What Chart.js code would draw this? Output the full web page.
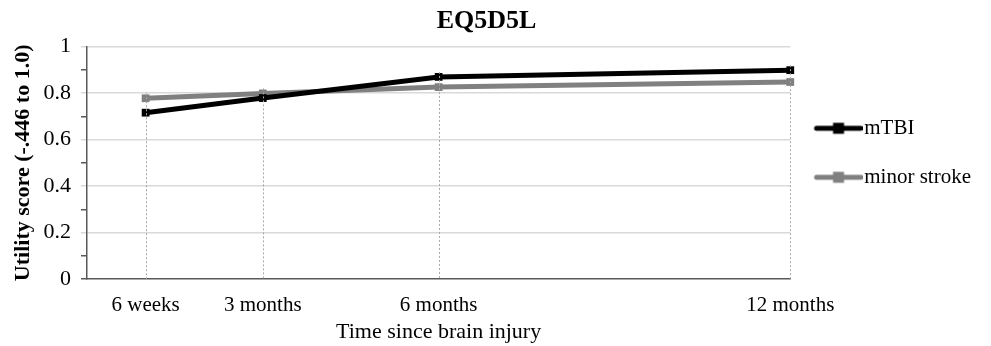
<!DOCTYPE html>
<html>
<head>
<meta charset="utf-8">
<script src="https://cdn.jsdelivr.net/npm/chart.js@4/dist/chart.umd.min.js"></script>
<style>
  html, body { margin: 0; padding: 0; background: #ffffff; }
  #wrap { width: 991px; height: 346px; position: relative; }
</style>
</head>
<body>
<div id="wrap"><canvas id="c" width="991" height="346"></canvas></div>
<script>
// ---- data ----
const chartTitle = 'EQ5D5L';
const timeLabels = ['6 weeks', '3 months', '6 months', '12 months'];
const timeMonths = [1, 3, 6, 12];
const mTBI = [0.716, 0.779, 0.870, 0.899];
const minorStroke = [0.778, 0.799, 0.826, 0.848];
const seriesNames = ['mTBI', 'minor stroke'];
const yTickValues = [0, 0.2, 0.4, 0.6, 0.8, 1];
const xAxisTitle = 'Time since brain injury';
const yAxisTitle = 'Utility score (-.446 to 1.0)';

const BLACK = '#000000';
const GRAY = '#808080';
const FONT = '"Liberation Serif", "Times New Roman", serif';

function legendImage(color) {
  const c = document.createElement('canvas');
  c.width = 53; c.height = 14;
  const g = c.getContext('2d');
  g.strokeStyle = color; g.lineWidth = 5; g.lineCap = 'round';
  g.beginPath(); g.moveTo(7, 7); g.lineTo(51, 7); g.stroke();
  g.fillStyle = color; g.fillRect(29 - 5.5, 7 - 5.5, 11, 11);
  return c;
}
const legendImgs = [legendImage(BLACK), legendImage(GRAY)];

const dropLines = {
  id: 'dropLines',
  afterDatasetsDraw(chart) {
    const ctx = chart.ctx;
    const y0 = chart.scales.y.getPixelForValue(0);
    const metas = chart.getSortedVisibleDatasetMetas();
    ctx.save();
    ctx.strokeStyle = '#a6a6a6';
    ctx.lineWidth = 1;
    ctx.setLineDash([2, 2]);
    for (let i = 0; i < timeMonths.length; i++) {
      let top = Infinity, x = null;
      metas.forEach(m => { const p = m.data[i]; if (p) { top = Math.min(top, p.y); x = p.x; } });
      ctx.beginPath();
      ctx.moveTo(Math.round(x) + 0.5, top - 5);
      ctx.lineTo(Math.round(x) + 0.5, y0);
      ctx.stroke();
    }
    ctx.restore();
  }
};

function isMajor(v) { return yTickValues.some(t => Math.abs(t - v) < 1e-6); }

new Chart(document.getElementById('c'), {
  type: 'line',
  data: {
    datasets: [
      {
        label: seriesNames[0],
        data: timeMonths.map((m, i) => ({ x: m, y: mTBI[i] })),
        borderColor: BLACK, backgroundColor: BLACK,
        borderWidth: 5, pointStyle: 'rect', pointRadius: 5.5, pointBorderWidth: 0,
        tension: 0, clip: false
      },
      {
        label: seriesNames[1],
        data: timeMonths.map((m, i) => ({ x: m, y: minorStroke[i] })),
        borderColor: GRAY, backgroundColor: GRAY,
        borderWidth: 5, pointStyle: 'rect', pointRadius: 5.5, pointBorderWidth: 0,
        tension: 0, clip: false
      }
    ]
  },
  options: {
    responsive: false,
    animation: false,
    devicePixelRatio: 1,
    layout: { padding: { left: -8, right: 10, top: 0, bottom: 1 } },
    plugins: {
      tooltip: { enabled: false },
      title: {
        display: true, text: chartTitle, color: BLACK,
        font: { family: FONT, size: 26, weight: 'bold' },
        padding: { top: 6, bottom: 9.5 }
      },
      legend: {
        display: true, position: 'right', align: 'start',
        title: { display: true, text: '', font: { size: 12, lineHeight: 1.2 }, padding: { top: 75.4, bottom: 0 } },
        labels: {
          usePointStyle: true, pointStyleWidth: 35.5, padding: 28,
          color: BLACK, font: { family: FONT, size: 21 },
          generateLabels: (chart) => seriesNames.map((n, i) => ({
            text: n, pointStyle: legendImgs[i], fontColor: BLACK,
            hidden: false, datasetIndex: i, lineWidth: 0, strokeStyle: 'transparent', fillStyle: 'transparent'
          }))
        }
      }
    },
    scales: {
      x: {
        type: 'linear', min: 0, max: 12,
        afterBuildTicks: (s) => { s.ticks = timeMonths.map(v => ({ value: v })); },
        ticks: {
          autoSkip: false, maxRotation: 0, padding: 1, color: BLACK,
          font: { family: FONT, size: 21 },
          callback: (v) => timeLabels[timeMonths.indexOf(v)]
        },
        grid: { display: false, drawTicks: true, tickLength: 12.4 },
        border: { display: true, color: '#595959', width: 1.5 },
        title: {
          display: true, text: xAxisTitle, color: BLACK,
          font: { family: FONT, size: 22 }, padding: { top: 0, bottom: 0 }
        }
      },
      y: {
        min: 0, max: 1,
        ticks: {
          stepSize: 0.1, autoSkip: false, padding: 10, color: BLACK,
          font: { family: FONT, size: 22 },
          callback: (v) => isMajor(v) ? String(Math.round(v * 10) / 10) : ''
        },
        afterBuildTicks: (s) => {
          const t = [];
          for (let i = 0; i <= 10; i++) t.push({ value: i / 10 });
          s.ticks = t;
        },
        grid: {
          drawTicks: true, tickLength: 6, lineWidth: 1.5,
          color: (c) => (c.tick && isMajor(c.tick.value) && c.tick.value > 0) ? '#d9d9d9' : 'rgba(0,0,0,0)',
          tickColor: (c) => (c.tick && isMajor(c.tick.value) && c.tick.value > 0) ? '#d9d9d9' : '#595959'
        },
        border: { display: true, color: '#595959', width: 1.5 },
        title: {
          display: true, text: yAxisTitle, color: BLACK,
          font: { family: FONT, size: 22, weight: 'bold' }, padding: { top: 17.8, bottom: -2.7 }
        }
      }
    }
  },
  plugins: [dropLines]
});
</script>
</body>
</html>
